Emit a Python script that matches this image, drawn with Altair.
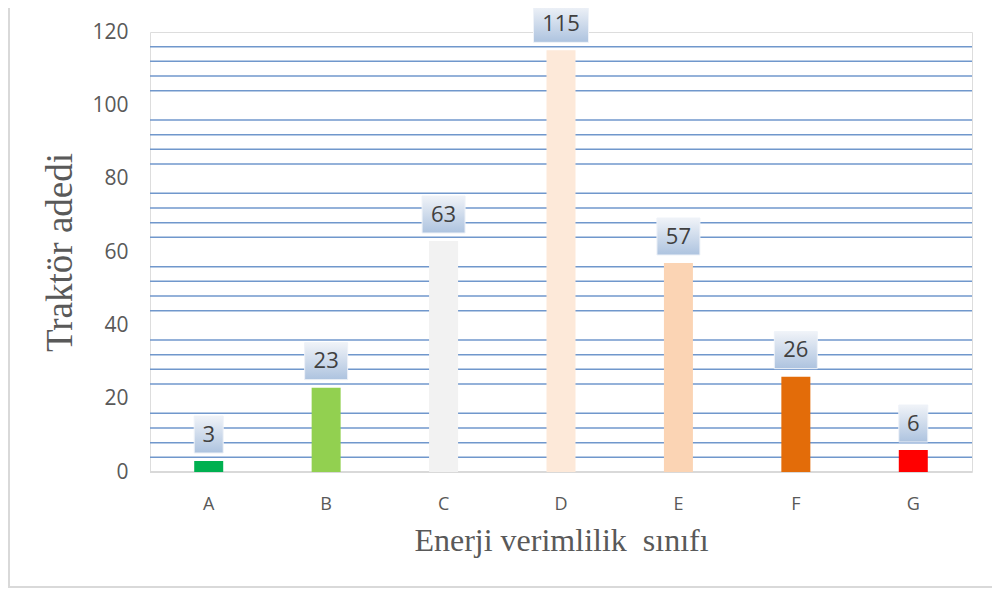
import altair as alt
import pandas as pd

classes = ["A", "B", "C", "D", "E", "F", "G"]
counts = [3, 23, 63, 115, 57, 26, 6]
bar_colors = ["#00B050", "#92D050", "#F2F2F2", "#FDE9D9", "#FBD4B4", "#E36C09", "#FF0000"]
y_ticks = [0, 20, 40, 60, 80, 100, 120]
grid_values = [4, 8, 12, 16, 24, 28, 32, 36, 44, 48, 52, 56, 64, 68, 72, 76,
               84, 88, 92, 96, 104, 108, 112, 116]

W, H = 822, 440
px_per_unit = H / 120.0

df = pd.DataFrame({"cls": classes, "n": counts, "col": bar_colors})
df["digits"] = df["n"].astype(str).str.len()
df["lab"] = df["n"].astype(str)
df["b0"] = df["n"] + 8 / px_per_unit
df["b1"] = df["n"] + 45 / px_per_unit
grid_df = pd.DataFrame({"g": grid_values})

xscale = alt.Scale(domain=classes, paddingInner=0, paddingOuter=0)
yscale = alt.Scale(domain=[0, 120], nice=False)

y_axis = alt.Axis(values=y_ticks, grid=False, domain=False, ticks=False,
                  labelFont="Open Sans", labelFontSize=21, labelColor="#595959",
                  labelPadding=22,
                  title="Traktör adedi", titleFont="Liberation Serif",
                  titleFontSize=37, titleFontWeight="normal",
                  titleColor="#595959", titlePadding=12)

x_enc = alt.X("cls:N", scale=xscale, sort=classes,
              axis=alt.Axis(title="Enerji verimlilik\u00a0 sınıfı", labelAngle=0,
                            labelFont="Open Sans", labelFontSize=18, labelColor="#595959",
                            labelPadding=23, ticks=False, domain=False,
                            titleFont="Liberation Serif", titleFontSize=32,
                            titleFontWeight="normal", titleColor="#595959",
                            titlePadding=12))

grid = alt.Chart(grid_df).mark_rule(color="#7097cc", strokeWidth=1.5).encode(
    y=alt.Y("g:Q", scale=yscale, axis=y_axis),
    x=alt.value(0), x2=alt.value(W),
)

baseline = alt.Chart(grid_df).mark_rule(color="#d9d9d9", strokeWidth=1.5).encode(
    y=alt.value(H), x=alt.value(0), x2=alt.value(W),
)

bars = alt.Chart(df).mark_bar(width=29).encode(
    x=x_enc,
    y=alt.Y("n:Q", scale=yscale, axis=y_axis),
    color=alt.Color("col:N", scale=None, legend=None),
)

grad = alt.LinearGradient(
    gradient="linear",
    stops=[alt.GradientStop(color="#f0f3f8", offset=0),
           alt.GradientStop(color="#adc3df", offset=1)],
    x1=0, x2=0, y1=0, y2=1,
)

box_layers = []
for d, w in [(1, 29), (2, 43), (3, 55)]:
    box_layers.append(
        alt.Chart(df).transform_filter(alt.datum.digits == d).mark_bar(
            width=w, fill=grad, stroke="#eef2f8", strokeWidth=1
        ).encode(
            x=alt.X("cls:N", scale=xscale, sort=classes),
            y=alt.Y("b0:Q", scale=yscale, axis=y_axis),
            y2="b1:Q",
        )
    )

labels = alt.Chart(df).mark_text(font="Open Sans", fontSize=22, color="#404040",
                                 baseline="middle", dy=-26.5).encode(
    x=alt.X("cls:N", scale=xscale, sort=classes),
    y=alt.Y("n:Q", scale=yscale, axis=y_axis),
    text="lab:N",
)

frame_left = alt.Chart(grid_df).mark_rule(color="#d9d9d9", strokeWidth=2).encode(
    x=alt.value(-141), y=alt.value(-24), y2=alt.value(555))
frame_bottom = alt.Chart(grid_df).mark_rule(color="#d9d9d9", strokeWidth=2).encode(
    x=alt.value(-142), x2=alt.value(W + 20), y=alt.value(555))

chart = alt.layer(grid, baseline, bars, *box_layers, labels, frame_left, frame_bottom).properties(
    width=W, height=H,
    autosize=alt.AutoSizeParams(type="none"),
    padding={"left": 142, "top": 24, "right": 20, "bottom": 116},
).configure_view(stroke=None).configure(background="white")

chart.save("out.html", embed_options={"renderer": "svg", "actions": False})
